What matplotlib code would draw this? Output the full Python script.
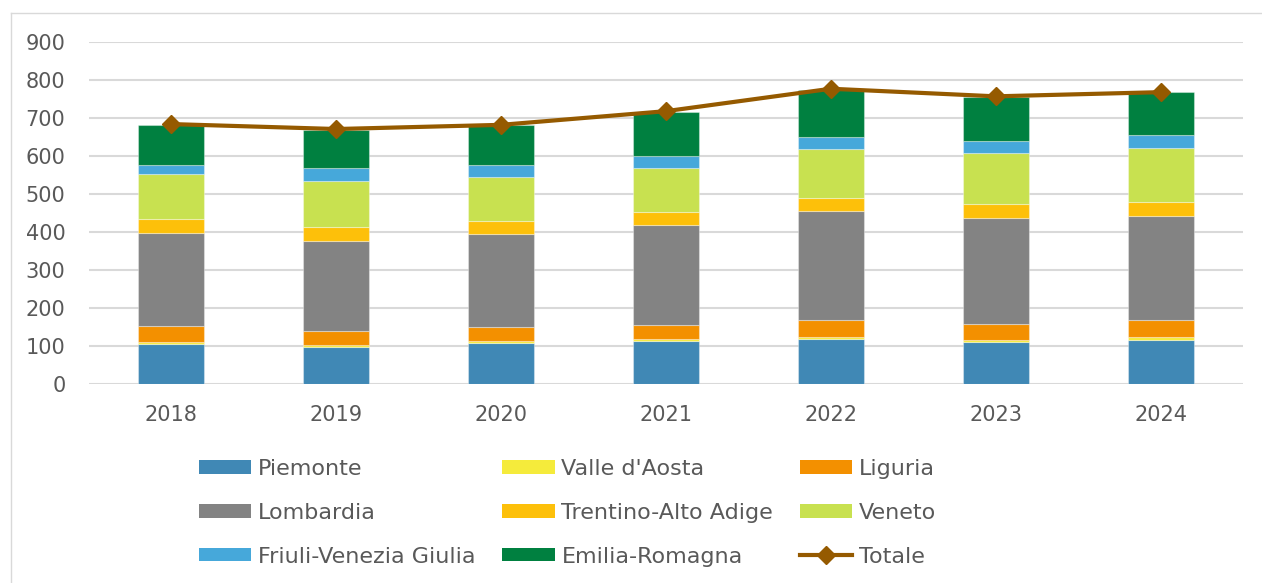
import matplotlib.pyplot as plt
import matplotlib.patches as mpatches
from matplotlib.lines import Line2D
import numpy as np

# === DATA ===
anni = ["2018", "2019", "2020", "2021", "2022", "2023", "2024"]
piemonte = [106, 98, 108, 114, 119, 110, 117]
valle_aosta = [4.5, 4.5, 5, 5, 5, 6, 6]
liguria = [41, 37, 37, 36, 44, 42, 45]
lombardia = [245, 238, 244, 264, 288, 280, 273]
trentino = [37, 36, 36, 34, 34, 37, 39]
veneto = [118, 122, 115, 115, 129, 133, 142]
friuli = [26, 32, 31, 31, 32, 32, 33]
emilia = [105, 102, 106, 118, 124, 116, 113]
totale = [684, 671, 682, 718, 777, 757, 768]

serie = [
    ("Piemonte", piemonte, "#4088B5"),
    ("Valle d'Aosta", valle_aosta, "#F5EB3B"),
    ("Liguria", liguria, "#F39000"),
    ("Lombardia", lombardia, "#838383"),
    ("Trentino-Alto Adige", trentino, "#FDC00A"),
    ("Veneto", veneto, "#C8E150"),
    ("Friuli-Venezia Giulia", friuli, "#46A8DA"),
    ("Emilia-Romagna", emilia, "#008040"),
]

TEXT = "#595959"
GRID = "#D9D9D9"
LINE = "#955A00"

plt.rcParams["font.family"] = ["DejaVu Sans"]

fig = plt.figure(figsize=(12.62, 5.83), dpi=100)
ax = fig.add_axes([89 / 1262, 1 - 384 / 583, (1243 - 89) / 1262, (384 - 42) / 583])

# chart border (only top and left edges are visible in the crop)
bx, by = 10.5 / 1262, 1 - 12.5 / 583
fig.add_artist(Line2D([bx, 1.0], [by, by], transform=fig.transFigure,
                      color=GRID, linewidth=1.0))
fig.add_artist(Line2D([bx, bx], [0, by], transform=fig.transFigure,
                      color=GRID, linewidth=1.0))

x = np.arange(len(anni))
bottom = np.zeros(len(anni))
handles = {}
for nome, valori, colore in serie:
    ax.bar(x, valori, 0.4, bottom=bottom, color=colore, label=nome,
           edgecolor=(1, 1, 1, 0.35), linewidth=0.8, zorder=3)
    handles[nome] = mpatches.Patch(facecolor=colore, label=nome)
    bottom += np.array(valori)

ax.plot(x, totale, color=LINE, linewidth=3, marker="D", markersize=9,
        zorder=5, solid_capstyle="round")
handles["Totale"] = Line2D([], [], color=LINE, linewidth=3, marker="D",
                           markersize=9, label="Totale")

ax.set_xlim(-0.5, len(anni) - 0.5)
ax.set_ylim(0, 900)
ax.set_yticks(range(0, 901, 100))
ax.set_xticks(x)
ax.set_xticklabels(anni)
ax.grid(axis="y", color=GRID, linewidth=1.5, zorder=0)
ax.set_axisbelow(True)
for s in ax.spines.values():
    s.set_visible(False)
ax.tick_params(axis="both", length=0, labelsize=15, colors=TEXT)
ax.tick_params(axis="y", pad=17)
ax.tick_params(axis="x", pad=15)

# legend, filled column-wise in mpl -> reorder to read row by row
ordine = ["Piemonte", "Lombardia", "Friuli-Venezia Giulia",
          "Valle d'Aosta", "Trentino-Alto Adige", "Emilia-Romagna",
          "Liguria", "Veneto", "Totale"]
leg = fig.legend([handles[n] for n in ordine], ordine, ncol=3, frameon=False,
                 loc="upper left", bbox_to_anchor=(179 / 1262, 1 - 439 / 583),
                 fontsize=16, handlelength=2.35, handleheight=0.55,
                 handletextpad=0.3, columnspacing=1.22, labelspacing=1.07)
for t in leg.get_texts():
    t.set_color(TEXT)

fig.savefig("out.png", dpi=100)
